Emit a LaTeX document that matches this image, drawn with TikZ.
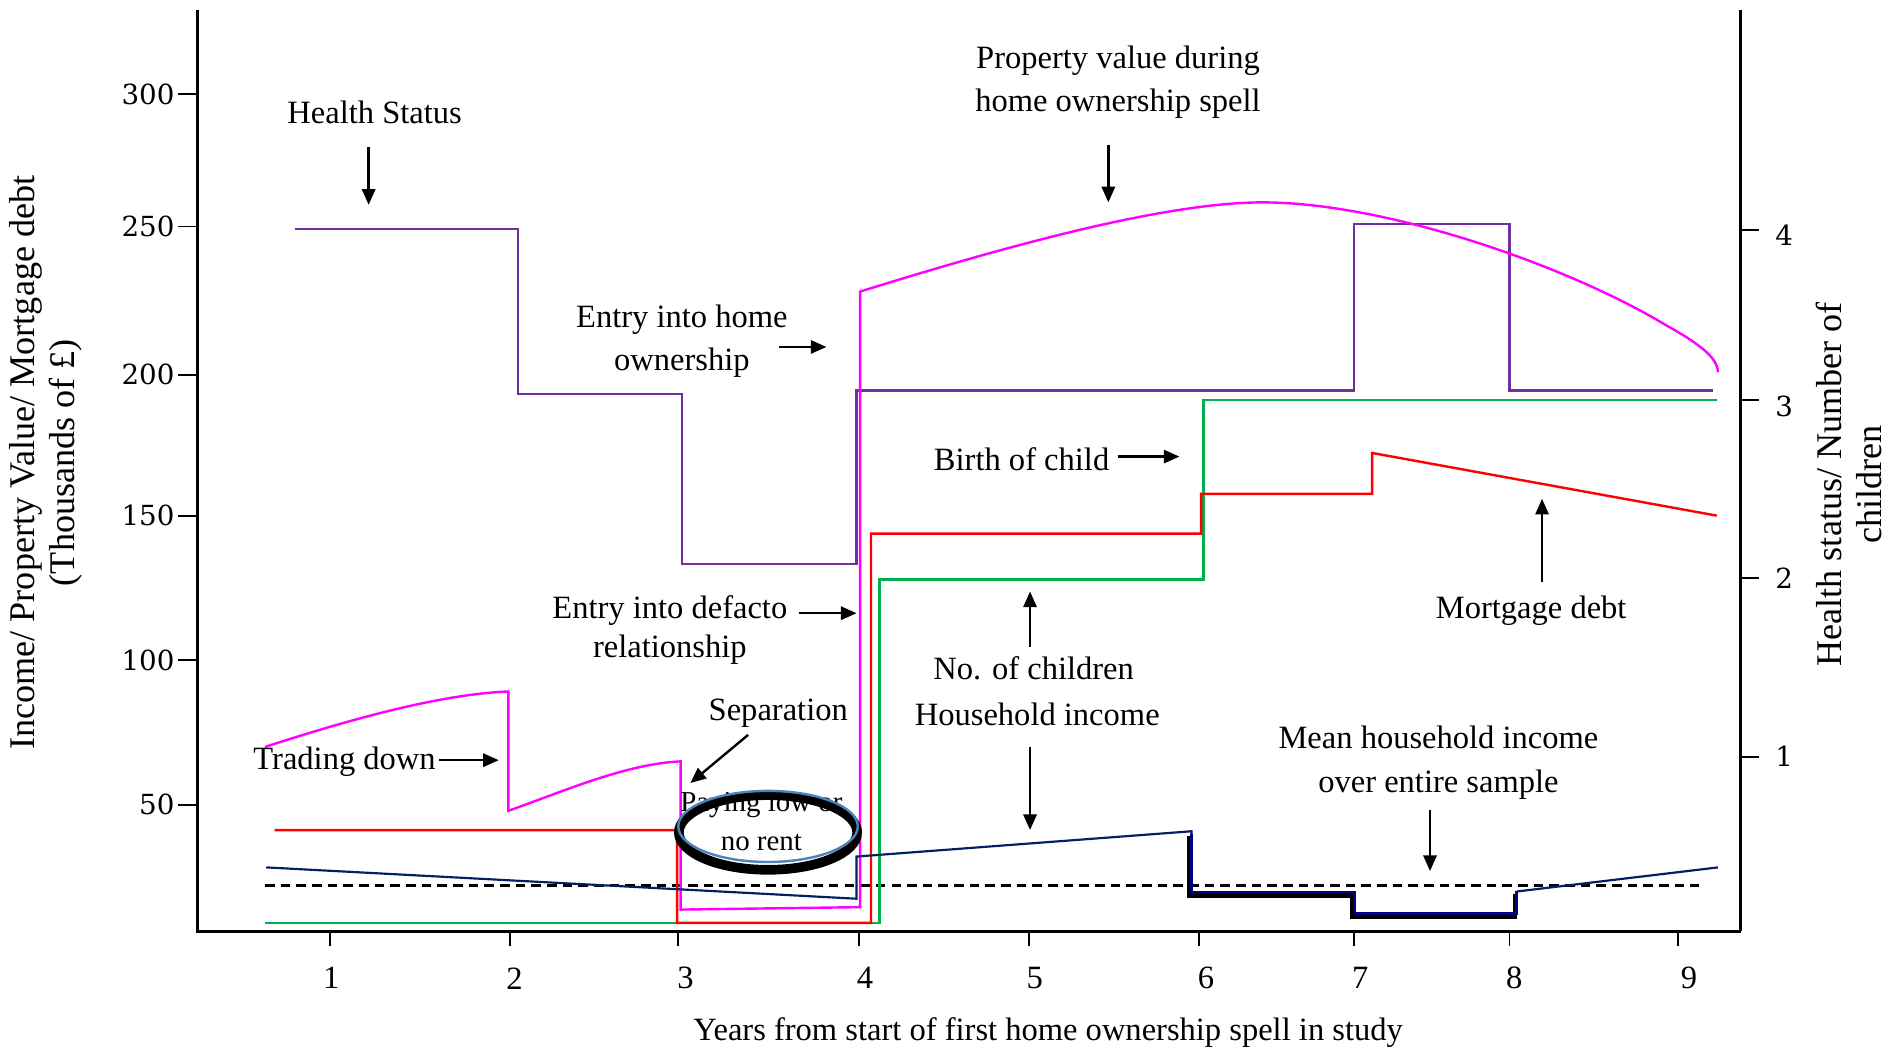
\documentclass[tikz,border=0pt]{standalone}
\usepackage{fontspec}
\setmainfont{Liberation Serif}
\newfontfamily\tickfont{DejaVu Serif}
\usetikzlibrary{arrows.meta}
\definecolor{hpurple}{HTML}{7030A0}
\definecolor{pmag}{HTML}{FF00FF}
\definecolor{mred}{HTML}{FF0000}
\definecolor{cgreen}{HTML}{00B050}
\definecolor{inavy}{HTML}{002060}
\definecolor{ringblue}{HTML}{4F81BD}
\definecolor{stepblue}{HTML}{000080}
\begin{document}
\begin{tikzpicture}[x=1pt,y=-1pt,
  axisline/.style={line width=2.3pt,black},
  tickline/.style={line width=1.6pt,black},
  lbl/.style={font=\fontsize{27}{36}\selectfont,inner sep=0pt,align=center},
  lbltight/.style={font=\fontsize{27}{33}\selectfont,inner sep=0pt,align=center},
  ringtxt/.style={font=\fontsize{24}{28}\selectfont,inner sep=0pt},
  ticklbl/.style={font=\tickfont\fontsize{23}{26}\selectfont,inner sep=0pt},
  xticklbl/.style={font=\fontsize{27}{30}\selectfont,inner sep=0pt},
  axtitle/.style={font=\fontsize{30}{33}\selectfont,inner sep=0pt,align=center,rotate=90},
  note/.style={-{Triangle[length=13pt,width=11pt]},line width=2pt,black},
  series/.style={line width=2pt,line join=miter},
]
\useasboundingbox (0,0) rectangle (1568,874);

% ---------- axes ----------
\draw[axisline] (164,8) -- (164,773) -- (1445,773);
\draw[axisline] (1445,8) -- (1445,773);

% left ticks and labels
\foreach \yy/\lab in {78/300,188/250,311/200,428/150,548/100,668/50}{
  \draw[tickline] (148,\yy) -- (164,\yy);
  \node[ticklbl,anchor=east] at (145,\yy) {\lab};
}
% right ticks and labels
\foreach \yy/\ly/\lab in {191/195/4,332/337/3,480/480/2,628/628/1}{
  \draw[tickline] (1445,\yy) -- (1460,\yy);
  \node[ticklbl] at (1481,\ly) {\lab};
}
% bottom ticks and labels
\foreach \xx/\lx/\lab in {274/275/1,423/427/2,563/569/3,713/718/4,854/859/5,995/1001/6,1124/1129/7,1253/1257/8,1393/1402/9}{
  \draw[tickline] (\xx,773) -- (\xx,785);
  \node[xticklbl] at (\lx,812) {\lab};
}

% axis titles
\node[axtitle] (ylab) at (38,384) {Income/ Property Value/ Mortgage debt\\(Thousands of \pounds)};
\node[axtitle] (y2lab) at (1535,402) {Health status/ Number of\\children};
\node[xticklbl] (xlab) at (870,857) {Years from start of first home ownership spell in study};

% ---------- mean income (dashed) ----------
\draw[line width=2pt,black,dash pattern=on 8pt off 5pt] (220,735) -- (1410,735);

% ---------- health status (purple) ----------
\draw[series,hpurple] (245,190) -- (430,190) -- (430,327) -- (566,327) -- (566,468)
  -- (711,468) -- (711,324) -- (1124,324) -- (1124,186) -- (1253,186) -- (1253,324) -- (1422,324);

% ---------- number of children (green) ----------
\draw[series,cgreen] (220,766) -- (730,766) -- (730,481) -- (999,481) -- (999,332) -- (1425,332);

% ---------- mortgage debt (red) ----------
\draw[series,mred] (228,689) -- (562,689) -- (562,766) -- (723,766) -- (723,443)
  -- (997,443) -- (997,410) -- (1139,410) -- (1139,376) -- (1425,428);

% ---------- property value (magenta) ----------
\draw[series,pmag] (220,620) .. controls (300,594) and (370,576) .. (422,574)
  -- (422,673) .. controls (470,656) and (520,634) .. (565,632)
  -- (565,755) -- (714,753) -- (714,242)
  .. controls (830,206) and (965,168) .. (1048,168)
  .. controls (1150,168) and (1300,220) .. (1383,270)
  .. controls (1410,285) and (1426,297) .. (1426,309);

% ---------- household income (navy) ----------
\draw[series,inavy,line width=1.8pt] (221,720) -- (711,746) -- (711,711) -- (989,690) -- (989,693);
\draw[black,line width=4pt,line join=miter] (987.5,694) -- (987.5,743.5) -- (1122.5,743.5) -- (1122.5,760.5) -- (1257.5,760.5) -- (1257.5,742);
\draw[stepblue,line width=2.4pt,line join=miter] (989,692) -- (989,741) -- (1124,741) -- (1124,758) -- (1259,758) -- (1259,740);
\draw[series,inavy,line width=1.8pt] (1259,740) -- (1426,720);

% ---------- paying low or no rent ----------
\node[ringtxt] (pay1) at (632,668) {Paying low or};
\node[ringtxt] (pay2) at (632,699) {no rent};
\draw[black,line width=8pt] (637.5,691) ellipse [x radius=74, y radius=31];
\draw[ringblue,line width=2pt] (637.5,686) ellipse [x radius=74.5, y radius=29.5];

% ---------- annotations ----------
\node[lbl] (health) at (311,93) {Health Status};
\coordinate (healthA) at (306,122); \coordinate (healthB) at (306,170);
\draw[note] (healthA) -- (healthB);

\node[lbl] (prop) at (928,68) {Property value during\\home ownership spell};
\coordinate (propA) at (920,120); \coordinate (propB) at (920,168);
\draw[note] (propA) -- (propB);

\node[lbl] (entryhome) at (566,283) {Entry into home\\ownership};
\coordinate (entryA) at (647,288); \coordinate (entryB) at (686,288);
\draw[note] (entryA) -- (entryB);

\node[lbl] (birth) at (848,381) {Birth of child};
\coordinate (birthA) at (928,379); \coordinate (birthB) at (979,379);
\draw[note] (birthA) -- (birthB);

\node[lbl] (mort) at (1271,507) {Mortgage debt};
\coordinate (mortA) at (1280,483); \coordinate (mortB) at (1280,414);
\draw[note] (mortA) -- (mortB);

\node[lbltight] (defacto) at (556,523) {Entry into defacto\\relationship};
\coordinate (defA) at (663,509); \coordinate (defB) at (711,509);
\draw[note] (defA) -- (defB);

\node[lbl] (nochild) at (858,555) {No. of children};
\coordinate (ncA) at (855,537); \coordinate (ncB) at (855,491);
\draw[note] (ncA) -- (ncB);

\node[lbl] (hhinc) at (861,593) {Household income};
\coordinate (hiA) at (855,620); \coordinate (hiB) at (855,689);
\draw[note] (hiA) -- (hiB);

\node[lbl] (sep) at (646,592) {Separation};
\coordinate (sepA) at (621,610); \coordinate (sepB) at (573,650);
\draw[note] (sepA) -- (sepB);

\node[lbl] (trade) at (286,632) {Trading down};
\coordinate (trA) at (364,631); \coordinate (trB) at (414,631);
\draw[note] (trA) -- (trB);

\node[lbl] (mean) at (1194,633) {Mean household income\\over entire sample};
\coordinate (meanA) at (1187,672); \coordinate (meanB) at (1187,723);
\draw[note] (meanA) -- (meanB);
\end{tikzpicture}
\end{document}
